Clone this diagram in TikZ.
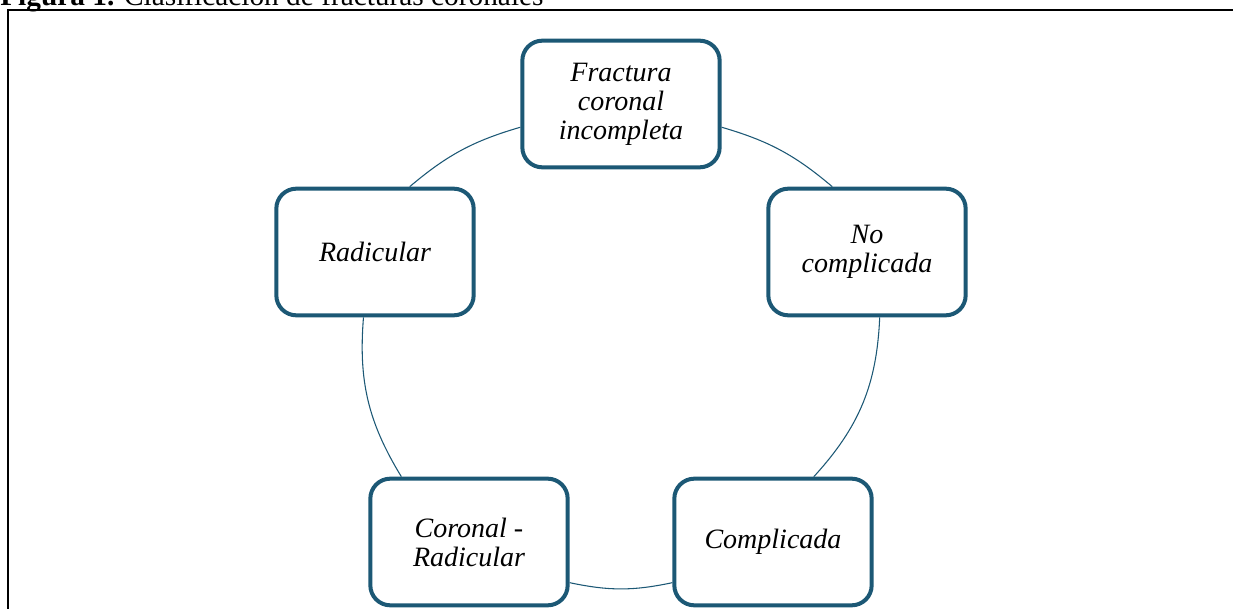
\documentclass[tikz,border=0pt]{standalone}
\usepackage{fontspec}
\setmainfont{Liberation Serif}
\usepackage{tikz}
\usetikzlibrary{calc}
\definecolor{boxblue}{RGB}{28,88,117}
\tikzset{my box/.style={
  draw=boxblue,
  line width=3pt,
  fill=white,
  rounded corners=15pt,
  minimum width=148pt,
  minimum height=95pt,
  align=center,
  font=\fontsize{21}{21.75}\selectfont\itshape
  },
  my line/.style={
  boxblue,
  line width=0.8pt
  }
}

\begin{document}
\begin{tikzpicture}[x=0.75pt,y=0.75pt]
    \useasboundingbox (0,0) rectangle (1233,-609);
    \clip (0,0) rectangle (1233,-609);

    % frame and caption
    \draw[line width=1.5pt] (7.5,-700) |- (1300,-10);
    \node[anchor=base west,inner sep=0pt,font=\fontsize{22}{24}\selectfont] (T) at (0,-6) {\textbf{Figura 1.} Clasificación de fracturas coronales};

    \foreach \x/\y/\n/\t in {621/104/FC/{Fractura\\coronal\\incompleta},867/252/NC/{No\\complicada},773/542/CO/{Complicada},469/542/CR/{Coronal -\\Radicular},375/252/RA/{Radicular}}
        \node[my box] (\n) at (\x,-\y) {\t};

    \draw[my line] (FC.-13) to[bend left=12] (NC.118);
    \draw[my line] (NC.-79) to[bend left=20] (CO.58);
    \draw[my line] (CO.202) to[bend left=12] (CR.-22);
    \draw[my line] (CR.136) to[bend left=18] (RA.-100);
    \draw[my line] (RA.62) to[bend left=12] (FC.193);

\end{tikzpicture}
\end{document}
